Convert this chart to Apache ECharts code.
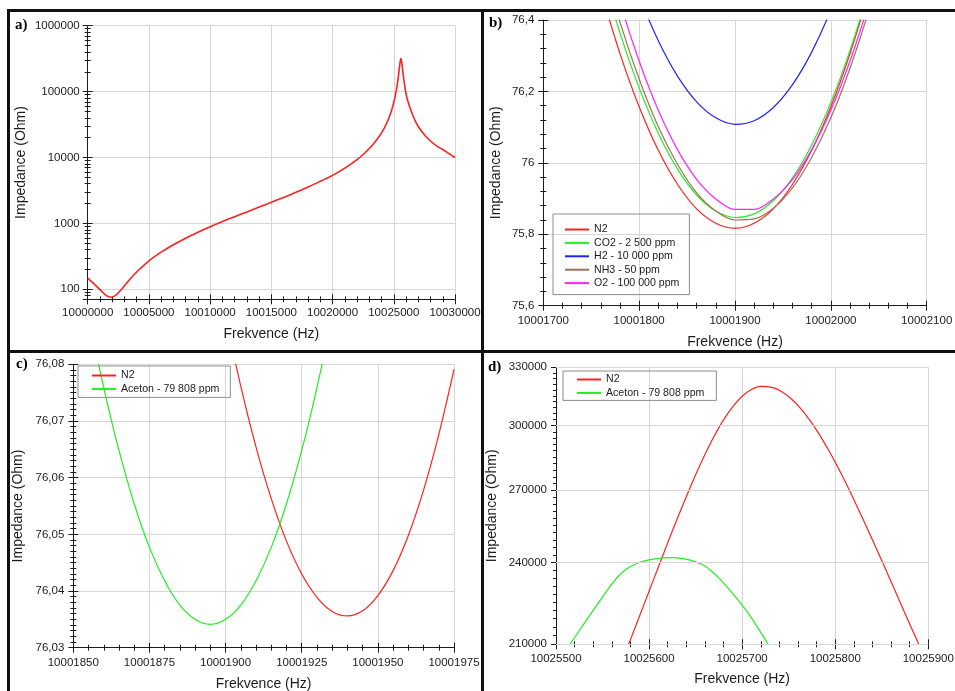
<!DOCTYPE html>
<html>
<head>
<meta charset="utf-8">
<script src="https://cdn.jsdelivr.net/npm/echarts@6/dist/echarts.min.js"></script>
<style>
html,body{margin:0;padding:0;background:#fff}
#chart{width:955px;height:691px}
</style>
</head>
<body>
<div id="chart"></div>
<script>
// ---- a) full frequency sweep, N2 ----
const sweepFreq = [10000000, 10000500, 10001000, 10001500, 10001900, 10002300, 10002800, 10003500, 10004000,
  10005000, 10006000, 10007000, 10008000, 10009000, 10010000, 10011000, 10012000, 10013000, 10014000,
  10015000, 10016000, 10017000, 10018000, 10019000, 10020000, 10021000, 10022000, 10022500, 10023000,
  10023500, 10024000, 10024400, 10024800, 10025100, 10025300, 10025450, 10025530, 10025580, 10025630,
  10025710, 10025860, 10026100, 10026600, 10027000, 10027500, 10028000, 10028500, 10029000, 10029500, 10030000];
const sweepImpedance = [148, 122, 99, 81, 75.8, 81.5, 102, 146, 183,
  270, 366, 474, 596, 733, 890, 1065, 1265, 1495, 1770,
  2090, 2480, 2960, 3560, 4350, 5350, 6900, 9300, 11100, 13700,
  17500, 23600, 32500, 50500, 83000, 134000, 225000, 290000, 320000, 290000,
  226000, 134000, 77000, 41500, 29500, 22200, 17800, 15000, 13200, 11500, 10000];
const sweepYTicks = [100, 1000, 10000, 100000, 1000000];

// ---- b) series resonance, gases ----
const gasFreq = [10001760, 10001780, 10001800, 10001820, 10001840, 10001860, 10001880, 10001900,
  10001920, 10001940, 10001960, 10001980, 10002000, 10002020, 10002040, 10002060];
const gasN2  = [76.482, 76.306, 76.157, 76.035, 75.940, 75.871, 75.831, 75.817, 75.831, 75.871, 75.940, 76.035, 76.157, 76.306, 76.482, 76.685];
const gasCO2 = [76.545, 76.364, 76.210, 76.083, 75.983, 75.910, 75.865, 75.847, 75.857, 75.894, 75.958, 76.050, 76.169, 76.315, 76.488, 76.687];
const gasH2  = [76.801, 76.622, 76.468, 76.342, 76.243, 76.171, 76.126, 76.108, 76.118, 76.155, 76.219, 76.310, 76.428, 76.573, 76.745, 76.943];
const gasNH3 = [76.581, 76.394, 76.235, 76.101, 75.996, 75.916, 75.865, 75.840, 75.843, 75.873, 75.930, 76.015, 76.126, 76.265, 76.430, 76.621];
const gasO2  = [76.641, 76.450, 76.285, 76.147, 76.037, 75.954, 75.899, 75.870, 75.870, 75.899, 75.954, 76.037, 76.147, 76.285, 76.450, 76.641];
const gasNames = ['N2', 'CO2 - 2 500 ppm', 'H2 - 10 000 ppm', 'NH3 - 50 ppm', 'O2 - 100 000 ppm'];

// ---- c) series resonance, acetone ----
const acetoneSeriesFreq = [10001850, 10001855, 10001860, 10001865, 10001870, 10001875, 10001880, 10001885, 10001890,
  10001895, 10001900, 10001905, 10001910, 10001915, 10001920, 10001925, 10001930, 10001935, 10001940];
const acetoneSeriesZ = [76.1031, 76.0886, 76.0759, 76.0648, 76.0554, 76.0477, 76.0418, 76.0375, 76.0350,
  76.0341, 76.0350, 76.0375, 76.0418, 76.0477, 76.0554, 76.0648, 76.0759, 76.0886, 76.1031];
const n2SeriesFreq = [10001895, 10001900, 10001905, 10001910, 10001915, 10001920, 10001925, 10001930, 10001935,
  10001940, 10001945, 10001950, 10001955, 10001960, 10001965, 10001970, 10001975];
const n2SeriesZ = [76.1025, 76.0885, 76.0761, 76.0654, 76.0563, 76.0488, 76.0430, 76.0389, 76.0364,
  76.0356, 76.0365, 76.0392, 76.0436, 76.0498, 76.0578, 76.0676, 76.0791];

// ---- d) parallel resonance, acetone ----
const n2ParallelFreq = [10025570, 10025580, 10025590, 10025600, 10025610, 10025620, 10025630, 10025640,
  10025650, 10025660, 10025670, 10025680, 10025690, 10025700, 10025710, 10025720,
  10025733, 10025743, 10025753, 10025763, 10025773, 10025783, 10025793, 10025803, 10025813,
  10025823, 10025833, 10025843, 10025853, 10025863, 10025873, 10025883, 10025893];
const n2ParallelZ = [203400, 211600, 220100, 229000, 238200, 247800, 257500, 267200,
  276900, 286200, 295000, 302900, 309500, 314800, 318300, 319900,
  319200, 317000, 313400, 308500, 302500, 295700, 288200, 280200, 271900,
  263400, 254900, 246500, 238300, 230200, 222400, 214900, 207700];
const acetoneParallelFreq = [10025510, 10025515, 10025525, 10025535, 10025545, 10025555, 10025565, 10025575,
  10025585, 10025595, 10025605, 10025615, 10025626, 10025637, 10025647, 10025657, 10025667, 10025677,
  10025687, 10025697, 10025707, 10025717, 10025728, 10025733];
const acetoneParallelZ = [207700, 210000, 214700, 219500, 224400, 229300, 233900, 237300,
  239300, 240600, 241300, 241800, 241900, 241500, 240600, 239200, 236700, 233300,
  229300, 225100, 220700, 215700, 210000, 207300];
const parallelYTicks = [210000, 240000, 270000, 300000, 330000];

const RED = '#ff2020', GREEN = '#22ee22', BLUE = '#2222ff', BROWN = '#a0705a', MAGENTA = '#ff22ff';
const FONT = '"Liberation Sans", Arial, sans-serif';
const INK = '#1c1c1c';
const GRID_LINE = '#d6d6d6';

const zip = (xs, ys) => xs.map((x, i) => [x, ys[i]]);
const plainNum = v => String(Math.round(v));
const commaNum = digits => v => String(parseFloat(v.toFixed(digits))).replace('.', ',');

// minor tick positions between the labelled values of the log axis in d
const parallelMinor = [];
for (let i = 0; i < parallelYTicks.length - 1; i++) {
  const step = (parallelYTicks[i + 1] - parallelYTicks[i]) / 10;
  for (let k = 1; k < 10; k++) parallelMinor.push(parallelYTicks[i] + k * step);
}

function axis(o) {
  return Object.assign({
    type: 'value',
    nameLocation: 'middle',
    nameTextStyle: { fontFamily: FONT, fontSize: 14, color: INK },
    axisLine: { show: true, onZero: false, lineStyle: { color: INK, width: 1 } },
    axisTick: { show: true, length: 5, lineStyle: { color: INK, width: 1 } },
    minorTick: { show: true, length: 3, splitNumber: 5, lineStyle: { color: INK, width: 1 } },
    axisLabel: { fontFamily: FONT, fontSize: 11.5, color: INK, margin: 8 },
    splitLine: { show: true, lineStyle: { color: GRID_LINE, width: 1 } }
  }, o);
}
// companion axis: same scale, ticks drawn inward so the ticks cross the axis line
function twin(a, extra) {
  return Object.assign({}, a, {
    name: '',
    axisLine: { show: false },
    axisLabel: Object.assign({}, a.axisLabel, { show: false, formatter: null }),
    splitLine: { show: false },
    axisTick: Object.assign({}, a.axisTick, { inside: true }),
    minorTick: Object.assign({}, a.minorTick)
  }, extra || {});
}

const xAxes = [], yAxes = [];
function addAxes(x, y) {
  xAxes.push(x, twin(x));
  yAxes.push(y, twin(y));
}

// a
addAxes(
  axis({ gridIndex: 0, position: 'bottom', min: 10000000, max: 10030000, interval: 5000, name: 'Frekvence (Hz)', nameGap: 28,
    axisLabel: { fontFamily: FONT, fontSize: 11.5, color: INK, margin: 8, formatter: plainNum } }),
  axis({ gridIndex: 0, position: 'left', type: 'log', min: 70.5, max: 1000000, name: 'Impedance (Ohm)', nameGap: 60,
    minorTick: { show: true, length: 3, splitNumber: 9, lineStyle: { color: INK } },
    axisLabel: { fontFamily: FONT, fontSize: 11.5, color: INK, margin: 8,
      formatter: v => sweepYTicks.some(t => Math.abs(t - v) < 1e-6 * t) ? plainNum(v) : '' } })
);
// b
addAxes(
  axis({ gridIndex: 1, position: 'bottom', min: 10001700, max: 10002100, interval: 100, name: 'Frekvence (Hz)', nameGap: 29,
    axisLabel: { fontFamily: FONT, fontSize: 11.5, color: INK, margin: 9, formatter: plainNum } }),
  axis({ gridIndex: 1, position: 'left', min: 75.6, max: 76.4, interval: 0.2, name: 'Impedance (Ohm)', nameGap: 40,
    minorTick: { show: true, length: 3, splitNumber: 5, lineStyle: { color: INK } },
    axisLabel: { fontFamily: FONT, fontSize: 11.5, color: INK, margin: 9, formatter: commaNum(1) } })
);
// c
addAxes(
  axis({ gridIndex: 2, position: 'bottom', min: 10001850, max: 10001975, interval: 25, name: 'Frekvence (Hz)', nameGap: 29,
    axisLabel: { fontFamily: FONT, fontSize: 11.5, color: INK, margin: 9, formatter: plainNum } }),
  axis({ gridIndex: 2, position: 'left', min: 76.03, max: 76.08, interval: 0.01, name: 'Impedance (Ohm)', nameGap: 48,
    minorTick: { show: true, length: 3, splitNumber: 10, lineStyle: { color: INK } },
    axisLabel: { fontFamily: FONT, fontSize: 11.5, color: INK, margin: 9, formatter: commaNum(2) } })
);
// d
const dY = axis({ gridIndex: 3, position: 'left', type: 'log', min: 210000, max: 330000, name: 'Impedance (Ohm)', nameGap: 57,
  minorTick: { show: false },
  splitLine: { show: false },
  axisTick: { show: true, length: 5, customValues: parallelYTicks, lineStyle: { color: INK } },
  axisLabel: { fontFamily: FONT, fontSize: 11.5, color: INK, margin: 9, customValues: parallelYTicks, formatter: plainNum } });
addAxes(
  axis({ gridIndex: 3, position: 'bottom', min: 10025500, max: 10025900, interval: 100, name: 'Frekvence (Hz)', nameGap: 28,
    axisLabel: { fontFamily: FONT, fontSize: 11.5, color: INK, margin: 9, formatter: plainNum } }),
  dY
);
// short ticks between the labelled values on d's log axis
yAxes.push(twin(dY, {
  axisTick: { show: true, inside: false, length: 3, customValues: parallelMinor, lineStyle: { color: INK } },
  axisLabel: { show: false, customValues: parallelMinor }
}));

const lineSeries = (name, data, color, xi, yi, width) => ({
  type: 'line', name, data, xAxisIndex: xi, yAxisIndex: yi,
  showSymbol: false, symbol: 'none', smooth: 0.35, clip: true,
  color, lineStyle: { color, width: width || 1.2 }, z: 3
});

const legendBase = {
  orient: 'vertical', icon: 'rect', itemWidth: 24, itemHeight: 2, itemGap: 2.4,
  backgroundColor: 'transparent', borderColor: '#8c8c8c', borderWidth: 1,
  textStyle: { fontFamily: FONT, fontSize: 10.6, color: INK }
};

const letter = (text, left, top) => ({
  type: 'text', left, top,
  style: { text, font: 'bold 15px "Liberation Serif", "Times New Roman", serif', fill: '#000' }
});
const bar = (x, y, w, h) => ({ type: 'rect', shape: { x, y, width: w, height: h }, style: { fill: '#111' }, z: 100 });

const option = {
  animation: false,
  backgroundColor: '#fff',
  grid: [
    { left: 87.7, top: 25.7, width: 367.3, height: 273.6, outerBoundsMode: 'none' },
    { left: 543.3, top: 20, width: 383.4, height: 285.7, outerBoundsMode: 'none' },
    { left: 73.3, top: 364.3, width: 380.7, height: 283.4, outerBoundsMode: 'none' },
    { left: 556, top: 367.3, width: 372.3, height: 277, outerBoundsMode: 'none' }
  ],
  xAxis: xAxes,
  yAxis: yAxes,
  legend: [
    Object.assign({}, legendBase, { left: 553, top: 214, padding: [10, 10, 6, 12], data: gasNames }),
    Object.assign({}, legendBase, { left: 78, top: 366, padding: [4, 11, 3, 14], data: ['N2', 'Aceton - 79 808 ppm'] }),
    Object.assign({}, legendBase, { left: 563, top: 371, padding: [3, 12, 2, 14], data: ['N2', 'Aceton - 79 808 ppm'] })
  ],
  series: [
    lineSeries('N2', zip(sweepFreq, sweepImpedance), RED, 0, 0, 1.6),
    lineSeries(gasNames[0], zip(gasFreq, gasN2), RED, 2, 2),
    lineSeries(gasNames[1], zip(gasFreq, gasCO2), GREEN, 2, 2),
    lineSeries(gasNames[2], zip(gasFreq, gasH2), BLUE, 2, 2),
    lineSeries(gasNames[3], zip(gasFreq, gasNH3), BROWN, 2, 2),
    lineSeries(gasNames[4], zip(gasFreq, gasO2), MAGENTA, 2, 2),
    lineSeries('N2', zip(n2SeriesFreq, n2SeriesZ), RED, 4, 4),
    lineSeries('Aceton - 79 808 ppm', zip(acetoneSeriesFreq, acetoneSeriesZ), GREEN, 4, 4),
    lineSeries('N2', zip(n2ParallelFreq, n2ParallelZ), RED, 6, 6),
    lineSeries('Aceton - 79 808 ppm', zip(acetoneParallelFreq, acetoneParallelZ), GREEN, 6, 6),
    {
      // horizontal grid lines of the log axis in d
      type: 'line', name: 'grid-d', data: [], xAxisIndex: 6, yAxisIndex: 6, z: 1, silent: true,
      markLine: {
        silent: true, symbol: 'none', animation: false, label: { show: false },
        lineStyle: { color: GRID_LINE, type: 'solid', width: 1 },
        emphasis: { disabled: true },
        data: parallelYTicks.map(v => ({ yAxis: v }))
      }
    }
  ],
  graphic: [
    letter('a)', 15, 18),
    letter('b)', 489, 16),
    letter('c)', 16, 357),
    letter('d)', 488, 360),
    bar(7, 9, 948, 3),
    bar(7, 9, 3, 682),
    bar(481, 9, 3, 682),
    bar(7, 350, 948, 3)
  ]
};

const chart = echarts.init(document.getElementById('chart'), null, { renderer: 'canvas' });
chart.setOption(option);
</script>
</body>
</html>
